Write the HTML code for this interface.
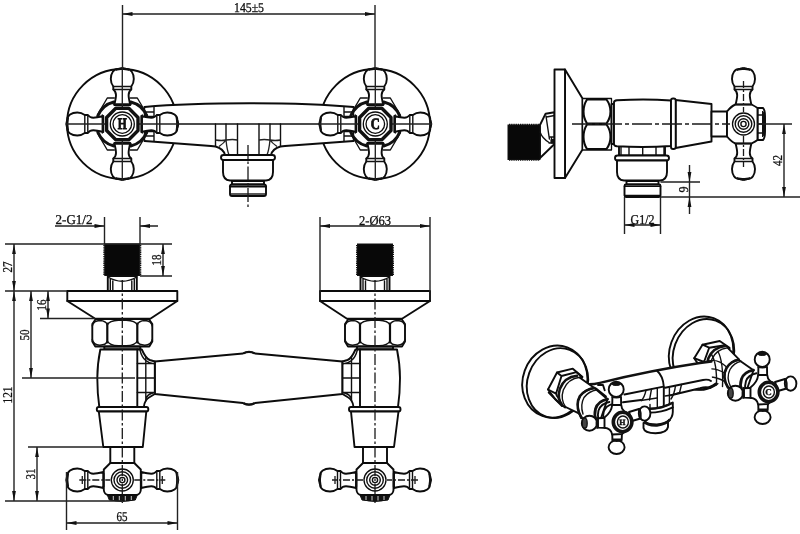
<!DOCTYPE html>
<html><head><meta charset="utf-8">
<style>
html,body{margin:0;padding:0;background:#fff;}
body{width:800px;height:534px;overflow:hidden;}
svg{display:block;filter:grayscale(1) blur(0.4px);}
text{text-rendering:geometricPrecision;font-family:"Liberation Serif",serif;font-size:13.5px;fill:#111;stroke:#111;stroke-width:0.3;}
.o{fill:none;stroke:#0c0c0c;stroke-width:1.9;stroke-linejoin:round;stroke-linecap:round;}
.w{fill:#fff;stroke:#0c0c0c;stroke-width:1.9;stroke-linejoin:round;stroke-linecap:round;}
.m{fill:none;stroke:#111;stroke-width:1.4;stroke-linejoin:round;stroke-linecap:round;}
.mw{fill:#fff;stroke:#1a1a1a;stroke-width:1.25;stroke-linejoin:round;}
.t{fill:none;stroke:#222;stroke-width:1.35;}
.d{fill:none;stroke:#222;stroke-width:1.4;}
.c{fill:none;stroke:#1a1a1a;stroke-width:1.3;stroke-dasharray:11 2.5 2.5 2.5;}
.k{fill:#111;stroke:#111;stroke-width:1;}
.a{fill:#111;stroke:none;}
</style></head><body>
<svg width="800" height="534" viewBox="0 0 800 534">
<defs>
<!-- arm of cross handle, pointing up, origin = hub centre -->
<g id="arm">
  <path class="w" d="M-8,-19 C-7,-23 -6.300,-26 -6.300,-29 C-6.300,-31 -7,-33 -9,-34.500 L-9,-37.500 C-10.500,-39.500 -11.500,-42 -11.500,-45 C-11.500,-51 -8.500,-55 -4.500,-55 L4.500,-55 C8.500,-55 11.500,-51 11.500,-45 C11.500,-42 10.500,-39.500 9,-37.500 L9,-34.500 C7,-33 6.300,-31 6.300,-29 C6.300,-26 7,-23 8,-19 Z"/>
  <path class="m" d="M-9,-34.500 H9 M-9,-37.500 H9"/>
  <path class="k" d="M-6.500,-53.800 Q-4,-56.300 0,-56.500 Q4,-56.300 6.500,-53.800 Q0,-55.500 -6.500,-53.800 Z"/>
</g>
<g id="cross">
  <!-- body behind -->
  <path class="m" d="M-8,-26 L-15,-26 L-25,-9 M8,-26 L15,-26 L25,-9 M-8,26 L-15,26 L-25,9 M8,26 L15,26 L25,9"/>
  <path d="M-8.500,-22 A23.500,23.500 0 0 0 -24.500,-8 M8.500,-22 A23.500,23.500 0 0 1 24.500,-8 M-8.500,22 A23.500,23.500 0 0 1 -24.500,8 M8.500,22 A23.500,23.500 0 0 0 24.500,8" fill="none" stroke="#111" stroke-width="3" stroke-linecap="round"/>
  <use href="#arm"/>
  <use href="#arm" transform="rotate(90)"/>
  <use href="#arm" transform="rotate(180)"/>
  <use href="#arm" transform="rotate(270)"/>
  <path class="m" d="M-9,-20 H9 M-9,20 H9 M-20,-9 V9 M20,-9 V9"/>
  <path class="t" d="M0,-56 V-12 M0,12 V56 M-56,0 H-12 M12,0 H56"/>
  <polygon points="-6.500,-15.700 6.500,-15.700 15.700,-6.500 15.700,6.500 6.500,15.700 -6.500,15.700 -15.700,6.500 -15.700,-6.500" fill="#fff" stroke="#111" stroke-width="3.400" stroke-linejoin="round"/>
  <circle class="o" r="12" style="stroke-width:1.3"/>
  <circle class="o" r="9.300" style="stroke-width:1.300"/>
</g>
<!-- handle seen edge-on (front/side views): origin = hub centre, arms left/right -->
<g id="hcirc">
  <circle class="o" r="11" style="stroke-width:1.300"/>
  <circle class="m" r="8.300"/>
  <circle class="m" r="5.300"/>
  <circle class="m" r="2.600"/>
</g>

<!-- front-view valve, axis at x=0; connection detail on +x side -->
<g id="valve">
  <!-- thread -->
  <rect x="-17.500" y="244" width="35" height="31.500" fill="#080808" stroke="#111" stroke-width="1"/>
  <path d="M-18.200,245 V275.500 M18.200,245 V275.500" fill="none" stroke="#111" stroke-width="1.600" stroke-dasharray="1.300 0.900"/>
  <!-- neck -->
  <path class="w" d="M-14.500,276 V291 H14.500 V276 Z"/>
  <path class="m" d="M-12,279 V291 M-9.500,281 V291 M9.500,281 V291 M12,279 V291 M-14.500,277 Q0,285.500 14.500,277"/>
  <!-- flange -->
  <path class="w" d="M-55,291 H55 V301 L28,318.700 H-27 L-55,301 Z"/>
  <path class="o" d="M-55,301 H55"/>
  <!-- hex nut -->
  <path class="w" d="M-26.500,319 H26.500 L30,324 V341.500 L27,346.500 H-27 L-30,341.500 V324 Z"/>
  <path class="o" d="M-15,323.500 V342.500 M15,323.500 V342.500" style="stroke-width:2.2"/>
  <path class="m" d="M-30,326 Q-29,320.800 -22.500,320.500 Q-16,320.800 -15,325 Q-13,320.500 -4,320.200 H4 Q13,320.500 15,325 Q16,320.800 22.500,320.500 Q29,320.800 30,326 M-30,339.500 Q-29,345 -22.500,345.200 Q-16,345 -15,341 Q-13,345.500 -4,345.700 H4 Q13,345.500 15,341 Q16,345 22.500,345.200 Q29,345 30,339.500"/>
  <!-- washer -->
  <rect class="w" x="-18" y="346.500" width="36" height="3" style="fill:#999"/>
  <!-- body -->
  <path class="w" d="M-22,349.500 C-23.500,357 -25,368 -25,378 C-25,390 -24,400 -23,407 L21.500,407 C22,402 23.500,399 27.500,397 L32.500,394 V361.500 L27.500,360 C23.500,358.500 21.500,354 19.500,349.500 Z"/>
  <path class="o" d="M15,349.500 V407"/>
  <path class="m" d="M23.500,356.500 V401 M15,363.500 H32.500 M15,378 H32.500 M15,392.500 H32.500 M17.500,349.500 Q19.500,357.500 23.500,360.500 Q27,363.500 32.500,364 M23.500,400 Q24,394 32.500,392.500"/>
  <!-- ring -->
  <rect class="w" x="-25.500" y="407" width="51.500" height="4.500" rx="2"/>
  <!-- taper -->
  <path class="w" d="M-23.500,411.500 L-19,447 H20.500 L24,411.500 Z"/>
  <!-- stem -->
  <rect class="w" x="-12" y="447" width="24" height="16"/>
  <!-- handle -->
  <g transform="translate(0,480)">
    <use href="#arm" transform="rotate(90)"/>
    <use href="#arm" transform="rotate(270)"/>
    <path class="k" d="M-15,15 H15 L13,20 Q0,23 -13,20 Z"/>
    <path d="M-9,15.500 V20 M-3,15.500 V20.500 M3,15.500 V20.500 M9,15.500 V20" stroke="#fff" stroke-width="0.800"/>
    <path class="w" d="M-12,-17 H12 L18.500,-10.500 V10 Q18,14.500 14,15 H-14 Q-18,14.500 -18.500,10 V-10.500 Z"/>
    <path class="m" d="M-18.500,-6.500 V6.500 M18.500,-6.500 V6.500"/>
    <use href="#hcirc"/>
    <path class="c" d="M-43,0 H-12 M12,0 H43" style="stroke-dasharray:7 2 2 2"/><path class="t" d="M-40,-4 V4 M40,-4 V4"/>
  </g>
  <path class="c" d="M0,280 V503"/>
</g>

<!-- isometric handle, origin = hub face centre -->
<g id="isoh">
  <!-- top arm -->
  <path class="w" d="M-9.800,-15 L-9.600,-25 H-1 L-0.800,-13 Z"/>
  <ellipse class="w" cx="-5.800" cy="-32.600" rx="7.500" ry="7.600"/>
  <path d="M-10.300,-25.600 Q-5.700,-23.600 -0.800,-25.600" fill="none" stroke="#111" stroke-width="2.200"/>
  <ellipse class="k" cx="-5.800" cy="-38.300" rx="4.500" ry="1.800"/>
  <!-- bottom arm -->
  <path class="w" d="M-9.800,9 L-9.600,17.500 H-0.300 L0,10 Z"/>
  <ellipse class="w" cx="-5.400" cy="25.200" rx="8" ry="6.800"/>
  <path d="M-10.300,17.800 Q-5.500,19.800 0.200,17.800" fill="none" stroke="#111" stroke-width="2.200"/>
  <!-- left arm -->
  <path class="w" d="M-14,-4.300 L-24,-3.800 V5.600 L-14,6 Z"/>
  <ellipse class="w" cx="-32.600" cy="1.200" rx="7.600" ry="7.500"/>
  <ellipse cx="-37.300" cy="1.200" rx="2.500" ry="5" fill="#444" stroke="#111" stroke-width="1.300"/>
  <path d="M-24.600,-5 Q-26.300,1 -24.600,6.800" fill="none" stroke="#111" stroke-width="2"/>
  <!-- right arm -->
  <path class="w" d="M7,-10 L17,-13 L18.500,-3.500 L10,-1 Z"/>
  <ellipse class="w" cx="22.600" cy="-8.400" rx="5.800" ry="7.200"/>
  <path d="M17.300,-14 Q19.300,-8.500 18.600,-2.500" fill="none" stroke="#111" stroke-width="2.200"/>
  <!-- hub -->
  <path class="w" d="M-9.800,-17 Q-10.500,-10 -17.500,-4.500 L-17.500,5.800 Q-11,6.500 -9.800,12.500 L0,12 L6,7 L7,-7 L2,-11 Q-0.500,-13 -0.800,-17 Z"/>
  <ellipse cx="0.600" cy="0" rx="9.300" ry="9.700" fill="#fff" stroke="#111" stroke-width="3.600"/>
  <ellipse class="m" cx="0.900" cy="0" rx="5.500" ry="6"/>
</g>
</defs>

<!-- ============ TOP VIEW ============ -->
<g id="topview">
  <circle class="o" cx="122" cy="124" r="55"/>
  <circle class="o" cx="375" cy="124" r="55"/>
  <!-- bridge body -->
  <path d="M144.500,107 C200,102 300,102 353.500,107 L353.500,141 L285,146 L280.500,146.500 C275,148 272,151 271,155 L225,155 C224,151 221,148 215.500,146.500 L211,146 L144.500,141 Z" fill="#fff" stroke="none"/>
  <path class="o" d="M144.500,107 C200,102 300,102 353.500,107 M353.500,141 L285,146 L280.500,146.500 C275,148 272,151 271,155 L225,155 C224,151 221,148 215.500,146.500 L211,146 L144.500,141"/>
  <path class="m" d="M144.500,107 V116.500 H154 V107 M144.500,112 H154 M144.500,141 V131.500 H154 V141 M144.500,136 H154"/>
  <path class="m" d="M353.500,107 V116.500 H344 V107 M353.500,112 H344 M353.500,141 V131.500 H344 V141 M353.500,136 H344"/>
  <path class="m" d="M179,124 H319"/>
  <!-- spout ribs -->
  <path class="m" d="M215.500,124 V146 M226,124 V140 M237.500,124 V155 M259,124 V155 M270,124 V140 M280.500,124 V146"/>
  <path class="t" d="M215.500,140 Q222,141 226,140 Q233,139 237.500,140 M259,140 Q264,139 270,140 Q275,141 280.500,140 M226,140 Q227,150 229,155 M270,140 Q269,150 267,155 M219,146.500 Q224,143 226,140 M277,146.500 Q272,143 270,140"/>
  <!-- collar + cup + outlet -->
  <rect class="w" x="221" y="155" width="54" height="5" rx="2.5"/>
  <path class="w" d="M223,160 L223,172 Q223,180 230,180.500 L266,180.500 Q273,180 273,172 L273,160 Z"/>
  <path class="w" d="M232,181 H264 V184.500 H232 Z"/>
  <rect class="w" x="230" y="184.500" width="36" height="11.500" rx="2"/>
  <path class="o" d="M230,186.500 H266" style="stroke-width:2.2"/>
  <path class="t" d="M231,194 H265"/>
  <path class="c" d="M248,145 V208" style="stroke-dasharray:14 2.500 2.500 2.500"/>
</g>
<use href="#cross" x="122.300" y="124"/>
<use href="#cross" x="375.300" y="124"/>
<g id="letters">
  <text x="122.300" y="129.300" text-anchor="middle" textLength="9" lengthAdjust="spacingAndGlyphs" style="font-size:16px;font-weight:bold;stroke:#111;stroke-width:0.9">H</text>
  <text x="375.300" y="129.300" text-anchor="middle" textLength="9" lengthAdjust="spacingAndGlyphs" style="font-size:16px;font-weight:bold;stroke:#111;stroke-width:0.9">C</text>
</g>
<!-- top dimension 145±5 -->
<g id="dim145">
  <path class="d" d="M122.500,5 V68 M375,5 V68 M122.500,14 H375"/>
  <path class="a" d="M122.500,14 l10,-1.900 v3.800 z M375,14 l-10,-1.900 v3.800 z"/>
  <text x="249" y="12" text-anchor="middle" textLength="30" lengthAdjust="spacingAndGlyphs">145±5</text>
</g>

<!-- ============ FRONT VIEW ============ -->
<g id="frontview">
  <!-- bridge -->
  <path class="w" d="M154.800,361.500 L243,353.500 Q249,350.300 255,353.500 L342.500,361.500 V394 L255,403 Q249,406.200 243,403 L154.800,394 Z"/>
  <path d="M243.500,353.300 Q249,350.300 254.500,353.300 M243.500,403.200 Q249,406.200 254.500,403.200" fill="none" stroke="#111" stroke-width="2.200"/>
  <use href="#valve" x="122.300"/>
  <use href="#valve" transform="translate(375,0) scale(-1,1)"/>
</g>
<g id="frontdims">
  <!-- 2-G1/2 -->
  <path class="d" d="M104.500,217 V244 M140,217 V244 M55,226 H104.500 M140,226 H158"/>
  <path class="a" d="M104.500,226 l-10,-1.900 v3.800 z M140,226 l10,-1.900 v3.800 z"/>
  <text x="74" y="223.500" text-anchor="middle" textLength="37" lengthAdjust="spacingAndGlyphs">2-G1/2</text>
  <!-- 18 -->
  <path class="d" d="M5,244 H172 M140,276 H172 M163,244 V276"/>
  <path class="a" d="M163,244 l-1.900,10 h3.800 z M163,276 l-1.900,-10 h3.800 z"/>
  <text transform="translate(160.500,260) rotate(-90)" text-anchor="middle" textLength="11" lengthAdjust="spacingAndGlyphs">18</text>
  <!-- 27 -->
  <path class="d" d="M5,291 H67 M14,244 V501"/>
  <path class="a" d="M14,244 l-1.900,10 h3.800 z M14,291 l-1.900,-10 h3.800 z M14,291 l-1.900,10 h3.800 z M14,501 l-1.900,-10 h3.800 z"/>
  <text transform="translate(12,267) rotate(-90)" text-anchor="middle" textLength="11" lengthAdjust="spacingAndGlyphs">27</text>
  <text transform="translate(12,395) rotate(-90)" text-anchor="middle" textLength="17" lengthAdjust="spacingAndGlyphs">121</text>
  <!-- 50 -->
  <path class="d" d="M31,291 V378 M22,378 H135"/>
  <path class="a" d="M31,291 l-1.900,10 h3.800 z M31,378 l-1.900,-10 h3.800 z"/>
  <text transform="translate(29,335) rotate(-90)" text-anchor="middle" textLength="11" lengthAdjust="spacingAndGlyphs">50</text>
  <!-- 16 -->
  <path class="d" d="M48,291 V318.500 M40,318.500 H95"/>
  <path class="a" d="M48,291 l-1.900,10 h3.800 z M48,318.500 l-1.900,-10 h3.800 z"/>
  <text transform="translate(46,305) rotate(-90)" text-anchor="middle" textLength="11" lengthAdjust="spacingAndGlyphs">16</text>
  <!-- 31 -->
  <path class="d" d="M28,447 H103 M5,501 H122 M37,447 V501"/>
  <path class="a" d="M37,447 l-1.900,10 h3.800 z M37,501 l-1.900,-10 h3.800 z"/>
  <text transform="translate(35,474) rotate(-90)" text-anchor="middle" textLength="11" lengthAdjust="spacingAndGlyphs">31</text>
  <!-- 65 -->
  <path class="d" d="M66.500,472 V530 M177.500,472 V530 M66.500,523 H177.500"/>
  <path class="a" d="M66.500,523 l10,-1.900 v3.800 z M177.500,523 l-10,-1.900 v3.800 z"/>
  <text x="122" y="521" text-anchor="middle" textLength="11" lengthAdjust="spacingAndGlyphs">65</text>
  <!-- 2-Ø63 -->
  <path class="d" d="M320,217 V300 M430,217 V300 M320,226 H430"/>
  <path class="a" d="M320,226 l10,-1.900 v3.800 z M430,226 l-10,-1.900 v3.800 z"/>
  <text x="375" y="224.500" text-anchor="middle" textLength="32" lengthAdjust="spacingAndGlyphs">2-Ø63</text>
</g>

<!-- ============ SIDE VIEW ============ -->
<g id="sideview">
  <!-- thread -->
  <rect x="508" y="125" width="32" height="34.500" fill="#080808" stroke="#111" stroke-width="1"/>
  <path d="M509,124.500 H540 M509,160 H540" fill="none" stroke="#111" stroke-width="1.600" stroke-dasharray="1.300 0.900"/>
  <!-- elbow -->
  <path class="w" d="M540,125 L545.600,113.700 L554.500,112.200 V144 L540,158 Z"/>
  <path class="m" d="M546.500,117 L554.500,115.500 M546,116 L549.400,139 M540,132 Q542,138 549,142.500 M549,137 H554.500 M549,143 H554.500 M551.500,137 V143"/>
  <path class="k" d="M551,139.500 h3.500 v3.500 h-3.500 z"/>
  <!-- flange plate + cone -->
  <path class="w" d="M565,69.500 L582.500,98.500 V149.500 L565,178 Z"/>
  <rect class="w" x="554.500" y="69.500" width="10.500" height="108.500"/>
  <!-- hex nut -->
  <path class="w" d="M582.500,98.500 H611.500 V150 H582.500 Z" style="stroke-width:1.3"/>
  <path class="o" d="M587,99.500 H606.500 Q610.500,105 610.500,111.500 Q610.500,118 606.500,123.500 H587 Q583.500,118 583.500,111.500 Q583.500,105 587,99.500 Z M587,124.500 H606.500 Q610.500,130 610.500,137 Q610.500,143.500 606.500,149 H587 Q583.500,143.500 583.500,137 Q583.500,130 587,124.500 Z" style="stroke-width:2.1"/>
  <!-- washer -->
  <rect class="w" x="611.500" y="104" width="2.500" height="40"/>
  <!-- outlet neck -->
  <rect class="w" x="619" y="146" width="46" height="9.500"/>
  <path class="m" d="M621,147 V155 M629,147 V155 M642.700,147 V155 M656,147 V155 M664,147 V155"/>
  <!-- body -->
  <path class="w" d="M614,102.500 Q614,100.500 617,100.300 Q645,98.500 671,100.500 V146 Q645,147.800 617,146.300 Q614,146 614,144 Z"/>
  <!-- taper -->
  <path class="w" d="M675.500,100 L711.500,104 V141.500 L675.500,148 Z"/>
  <!-- ring -->
  <rect class="w" x="671" y="98.500" width="4.700" height="50.500" rx="2"/>
  <!-- stem -->
  <rect class="w" x="711.500" y="111.500" width="15.500" height="25"/>
  <!-- handle -->
  <g transform="translate(743.500,124)">
    <use href="#arm"/>
    <use href="#arm" transform="rotate(180)"/>
    <path class="w" d="M14,-16 H19.500 Q21.500,-14 21.500,-8 V8 Q21.500,14 19.500,16 H14 Z"/>
    <path class="k" d="M19,-13 Q21.800,-10 21.800,0 Q21.800,10 19,13 Z"/>
    <path class="m" d="M14,-9 H19 M14,0 H19 M14,9 H19"/>
    <path class="w" d="M-16.500,-12.500 Q-12,-18 -8,-19.500 H8 Q12,-17.500 14,-16 V16 Q12,17.500 8,19.500 H-8 Q-12,18 -16.500,12.500 Z"/>
    <path class="m" d="M-8,-19.500 H8 M-8,19.500 H8"/>
    <use href="#hcirc"/>
    <path class="c" d="M0,-43 V-12 M0,12 V43" style="stroke-dasharray:7 2 2 2"/>
  </g>
  <!-- collar, cup, outlet -->
  <rect class="w" x="615" y="155.500" width="54" height="5" rx="2.500"/>
  <path class="w" d="M617,160.500 V172 Q617,180 624,180.500 H660 Q667,180 667,172 V160.500 Z"/>
  <path class="w" d="M626.500,181 H658.500 V184.500 H626.500 Z"/>
  <rect class="w" x="624.500" y="184.500" width="36" height="12.500" rx="1.500"/>
  <path class="o" d="M624.500,186.300 H660.500 M625,195.500 H660" style="stroke-width:1.600"/>
  <!-- axis -->
  <path class="c" d="M572,124 H730" style="stroke-dasharray:20 3 4 3"/>
  <path class="d" d="M757,124 H792"/>
</g>
<g id="sidedims">
  <path class="d" d="M660.500,182 H700 M660.500,197 H800 M689.500,165 V182 M689.500,197 V214 M689.500,182 V197"/>
  <path class="a" d="M689.500,182 l-1.900,-10 h3.800 z M689.500,197 l-1.900,10 h3.800 z"/>
  <text transform="translate(687.500,189.500) rotate(-90)" text-anchor="middle" textLength="6" lengthAdjust="spacingAndGlyphs">9</text>
  <path class="d" d="M784,124 V197"/>
  <path class="a" d="M784,124 l-1.900,10 h3.800 z M784,197 l-1.900,-10 h3.800 z"/>
  <text transform="translate(781.500,160.500) rotate(-90)" text-anchor="middle" textLength="11" lengthAdjust="spacingAndGlyphs">42</text>
  <path class="d" d="M624.500,197 V234 M660.500,197 V234 M624.500,225 H660.500"/>
  <path class="a" d="M624.500,225 l10,-1.900 v3.800 z M660.500,225 l-10,-1.900 v3.800 z"/>
  <text x="642.500" y="223.500" text-anchor="middle" textLength="24" lengthAdjust="spacingAndGlyphs">G1/2</text>
</g>

<!-- ============ ISOMETRIC VIEW ============ -->
<g id="isoview">
  <!-- flanges -->
  <g transform="translate(554.800,381.600) rotate(20)">
    <ellipse class="w" cx="0" cy="0" rx="32" ry="36.500"/>
    <ellipse class="o" cx="3" cy="0.500" rx="30" ry="35.500"/>
  </g>
  <g transform="translate(701,353) rotate(20)">
    <ellipse class="w" cx="0" cy="0" rx="31.500" ry="37"/>
    <ellipse class="o" cx="2.800" cy="0.500" rx="30" ry="36"/>
  </g>

  <!-- right nut -->
  <path class="w" d="M702.500,344.700 L719.700,341 L729.500,347.700 L720,365 L704,364 L697.200,362.700 L694.200,358.200 Z"/>
  <path class="o" d="M702.500,344.700 L709.200,347.700 L704,362 L694.200,358.200 M709.200,347.700 L725,345.300 L729.500,348.500 M697.200,362.700 L704,364.500"/>
  <!-- right body -->
  <path d="M725,346 Q713,347.500 708.500,358 Q705.500,368 710,380 L728,387.500 L739,359.500 Z" fill="#fff" stroke="none"/>
  <path d="M725,346 Q713,347.500 708.500,358 Q707,362 707,366" fill="none" stroke="#111" stroke-width="2.600" stroke-linecap="round"/>
  <path class="m" d="M727.500,347.800 Q716,349.500 711.700,359.500"/>
  <path class="o" d="M728,348.200 L739,359.300"/>
  <!-- lug grid -->
  <path class="m" d="M711.500,354.500 Q717,363 716.500,385 M718,351.500 Q723.500,362 722.500,386.500 M709,361 Q717,358.500 726,366.500 M709.500,369 Q716,368 724.500,373 M710.500,377 Q716,377 724,381"/>
  <!-- right taper -->
  <path class="w" d="M738.500,359.700 L753.500,370.200 L746,392 L728,387.500 Q721.500,377 726.500,368 Q731,361 738.500,359.700 Z"/>
  <path d="M738.500,359.700 Q731,361 726.500,368 Q721.500,377 728,387.500" fill="none" stroke="#111" stroke-width="2.600" stroke-linecap="round"/>
  <path class="m" d="M741,361.300 Q734,363 730,369.500 Q726,377.500 730.500,386.500"/>
  <!-- right collar near hub -->
  <path d="M753.500,370.200 Q744,372 741.500,379 Q739.500,385 741.500,391" fill="none" stroke="#111" stroke-width="2.800" stroke-linecap="round"/>
  <path class="o" d="M756.500,373.200 Q748,375 746,381 Q744.500,386 745.500,390"/>

  <!-- bridge -->
  <path d="M590,384 Q650,370 700,363 L711,361.700 L712,379 L700,388 L671,395 L672,404 L648,412 L640,404 L620,404 L606,394 Z" fill="#fff" stroke="none"/>
  <path d="M589,384.300 Q594,384.300 600,382.800 Q650,370.500 700,363 L711.500,361.500" fill="none" stroke="#111" stroke-width="2.400" stroke-linecap="round"/>
  <path class="o" d="M657,370.800 Q663,376 663.800,386.500 V408"/>
  <path class="o" d="M624.400,394.500 L663.500,386.600 M665,387.700 L703,380 Q708,379 711,381"/>
  <path class="o" d="M671,395.300 L700,388.300 Q706,386.500 710,388" style="stroke-width:2"/>
  <path class="o" d="M623,402.300 L641,400"/>
  <path class="m" d="M646,390.300 Q644.500,397 641.500,400.500 M651.500,389.200 L649.500,400 M657.300,388 V408 M669.400,387 V404 M675.500,385.700 Q674.500,394 671,399 M681.500,384.500 L679.500,393"/>
  <path class="m" d="M641,400.500 L657,398 M650,404.500 V408 M665,396 Q672,395.500 680,392.500"/>

  <!-- left nut -->
  <path class="w" d="M557,372.500 L572.800,368.700 L582.500,377 L572,392 L565,407.500 L555.500,399.500 L548,389.500 Z"/>
  <path class="o" d="M557,372.500 L561.500,376 L556,393.700 L548,389.500 M561.500,376 L576.500,372.200 L582,377 M548.700,392.500 L562,406 M556,393.700 L557,396 L565,407"/>
  <!-- left body -->
  <path d="M577,375.800 Q564,377 559.500,389 Q556.500,399 562.500,405.500 L579.400,413.700 L594.400,388 Z" fill="#fff" stroke="none"/>
  <path d="M577,375.800 Q564.500,377 559.800,389 Q556.800,399 562.500,405.500" fill="none" stroke="#111" stroke-width="2.600" stroke-linecap="round"/>
  <path class="m" d="M580,377.300 Q568,378.500 563.300,390 Q560.300,399.500 565.500,406.800"/>
  <path class="o" d="M579.500,377.500 L594.400,388 M563.500,406 L579.400,413.700"/>
  <!-- left taper -->
  <path class="w" d="M594.400,388 L607.500,399.200 L600,421 L581,418 Q575,404 580,396 Q585,389.500 594.400,388 Z"/>
  <path d="M594.400,388 Q585,389.500 580,396 Q575.500,404 579.400,413.700 L581.500,417.500" fill="none" stroke="#111" stroke-width="2.600" stroke-linecap="round"/>
  <path class="m" d="M597,389.800 Q588.500,391.500 584,397.500 Q580,405 583,414"/>
  <!-- left collar near hub -->
  <path d="M607.500,399.200 Q598,401 595.500,409 Q594,415 596,420" fill="none" stroke="#111" stroke-width="2.800" stroke-linecap="round"/>
  <path class="o" d="M609.400,402 Q601,403.500 598.500,410.500 Q597.300,415 598.500,419"/>
  <path class="o" d="M611.300,404.400 Q606,406 603.800,411.500 Q602.800,415 603.500,418"/>
  <!-- junction bridge / left body -->
  <path class="o" d="M598,385 L603,385 L604.700,390.300 M596,388.400 L606,396.500"/>

  <!-- outlet cup -->
  <path class="w" d="M643.500,423 V428 Q644.500,433 655.500,433.300 Q667,433 668,427 V421 Z"/>
  <path class="w" d="M648,408.700 Q661,409 672.800,402.500 L672.800,412 Q672.500,423 657,424.500 Q645.500,424.500 644.800,420.500 L648,412 Z"/>
  <path d="M644.500,421.500 Q647,425.600 657,425.300 Q666,424.500 670,419.500" fill="none" stroke="#111" stroke-width="2.800"/>
  <path class="o" d="M648.500,412.600 Q661,412.800 672.800,407.300"/>
  <path d="M647.500,408.800 Q660.500,409.500 672.800,402.800" fill="none" stroke="#111" stroke-width="2.200"/>
</g>
<use href="#isoh" x="622" y="422"/>
<use href="#isoh" x="768" y="392"/>
<text x="622.400" y="424.800" text-anchor="middle" style="font-size:8px;font-weight:bold;stroke:#111;stroke-width:0.400">H</text>
<text x="768.400" y="395.300" text-anchor="middle" style="font-size:9px;font-weight:bold;stroke:#111;stroke-width:0.300">C</text>
</svg>
</body></html>
